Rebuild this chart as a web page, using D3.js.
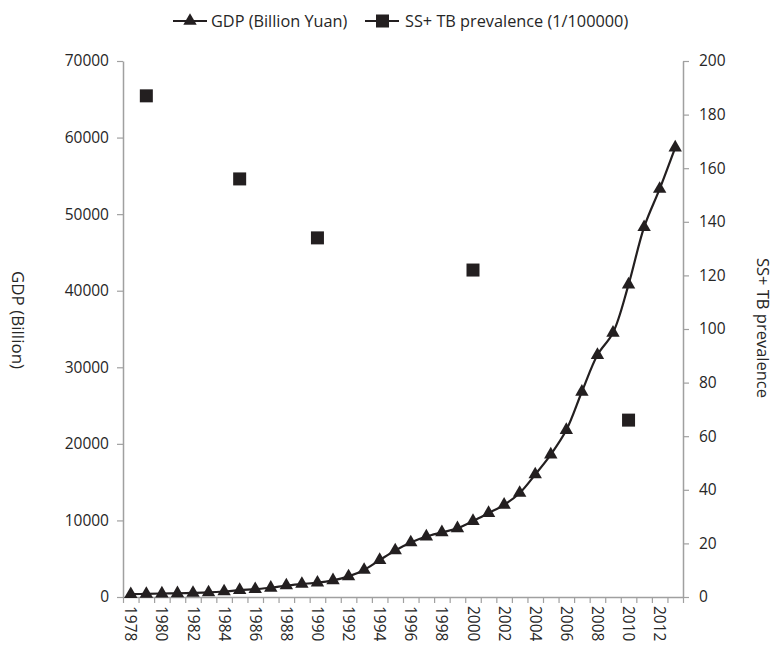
<!DOCTYPE html>
<html><head><meta charset="utf-8">
<script src="https://cdn.jsdelivr.net/npm/d3@7"></script>
<style>body{margin:0;background:#fff}svg{display:block}text{font-family:"Open Sans",sans-serif;fill:#262626}</style>
</head><body>
<svg id="c" width="775" height="646"></svg>
<script>
const years = d3.range(1978, 2014);
const gdp = [365,406,455,489,532,596,721,902,1028,1206,1504,1699,1867,2178,2692,3533,4820,6079,7118,7897,8440,8968,9921,10966,12033,13582,16000,18600,21800,26800,31600,34500,40800,48300,53300,58700];
const tbYears = [1979,1985,1990,2000,2010];
const tbValues = [187,156,134,122,66];
const gdpTicks = [0,10000,20000,30000,40000,50000,60000,70000];
const tbTicks = [0,20,40,60,80,100,120,140,160,180,200];
const yearLabels = years.filter(y => (y - 1978) % 2 === 0);

const L = 123, R = 683, T = 61, B = 597;
const ink = "#231f20", axisCol = "#a0a0a0";
const svg = d3.select("#c");

const x = d3.scaleBand().domain(years).range([L, R]).padding(0);
const xb = d3.scaleLinear().domain([0, years.length]).range([L, R]);
const yL = d3.scaleLinear().domain([0, 70000]).range([B, T]);
const yR = d3.scaleLinear().domain([0, 200]).range([B, T]);

// left axis
const gl = svg.append("g").attr("transform", `translate(${L},0)`)
  .call(d3.axisLeft(yL).tickValues(gdpTicks).tickFormat(d3.format("d")).tickSize(6).tickSizeOuter(0).tickPadding(8));
// right axis
const gr = svg.append("g").attr("transform", `translate(${R},0)`)
  .call(d3.axisRight(yR).tickValues(tbTicks).tickSize(6).tickSizeOuter(0).tickPadding(10));
// bottom axis (ticks at category boundaries)
const gb = svg.append("g").attr("transform", `translate(0,${B})`)
  .call(d3.axisBottom(xb).tickValues(d3.range(0, years.length + 1)).tickFormat("").tickSize(6).tickSizeOuter(0));
[gl, gr, gb].forEach(g => {
  g.selectAll("path.domain").attr("stroke", axisCol).attr("stroke-width", 1.5);
  g.selectAll(".tick line").attr("stroke", axisCol).attr("stroke-width", 1.2);
  g.selectAll("text").attr("font-size", 15.5).style("font-family", '"Open Sans",sans-serif').attr("fill", "#262626");
});

// year labels
svg.append("g").selectAll("text").data(yearLabels).join("text")
  .attr("transform", d => `translate(${x(d) + x.bandwidth() / 2},606) rotate(90)`)
  .attr("dy", "0.35em").attr("text-anchor", "start").attr("font-size", 15.5).text(d => d);

// axis titles
svg.append("text").attr("transform", "translate(18,320) rotate(90)").attr("text-anchor", "middle")
  .attr("dy", "0.35em").attr("font-size", 17).text("GDP (Billion)");
svg.append("text").attr("transform", "translate(763,328) rotate(90)").attr("text-anchor", "middle")
  .attr("dy", "0.35em").attr("font-size", 16.5).text("SS+ TB prevalence");

// GDP line
const cx = d => x(d) + x.bandwidth() / 2;
const line = d3.line().x((d, i) => cx(years[i])).y(d => yL(d)).curve(d3.curveCatmullRom.alpha(0.5));
svg.append("path").datum(gdp).attr("d", line).attr("fill", "none").attr("stroke", ink).attr("stroke-width", 2.2);
const tri = d3.symbol().type(d3.symbolTriangle).size(78);
svg.append("g").selectAll("path").data(gdp).join("path")
  .attr("transform", (d, i) => `translate(${cx(years[i])},${yL(d)})`)
  .attr("d", tri).attr("fill", ink);

// TB squares
svg.append("g").selectAll("rect").data(tbValues).join("rect")
  .attr("x", (d, i) => cx(tbYears[i]) - 6.5).attr("y", d => yR(d) - 6.5)
  .attr("width", 13).attr("height", 13).attr("fill", ink);

// legend
const lg = svg.append("g");
const ly = 21;
lg.append("line").attr("x1", 173).attr("x2", 207).attr("y1", ly).attr("y2", ly).attr("stroke", ink).attr("stroke-width", 2.2);
lg.append("path").attr("d", tri).attr("transform", `translate(190,${ly})`).attr("fill", ink);
lg.append("text").attr("x", 211).attr("y", ly).attr("dy", "0.35em").attr("font-size", 16.3).text("GDP (Billion Yuan)");
lg.append("line").attr("x1", 365).attr("x2", 399).attr("y1", ly).attr("y2", ly).attr("stroke", ink).attr("stroke-width", 2.2);
lg.append("rect").attr("x", 376).attr("y", ly - 6.5).attr("width", 13).attr("height", 13).attr("fill", ink);
lg.append("text").attr("x", 405).attr("y", ly).attr("dy", "0.35em").attr("font-size", 16.3).text("SS+ TB prevalence (1/100000)");
</script>
</body></html>
